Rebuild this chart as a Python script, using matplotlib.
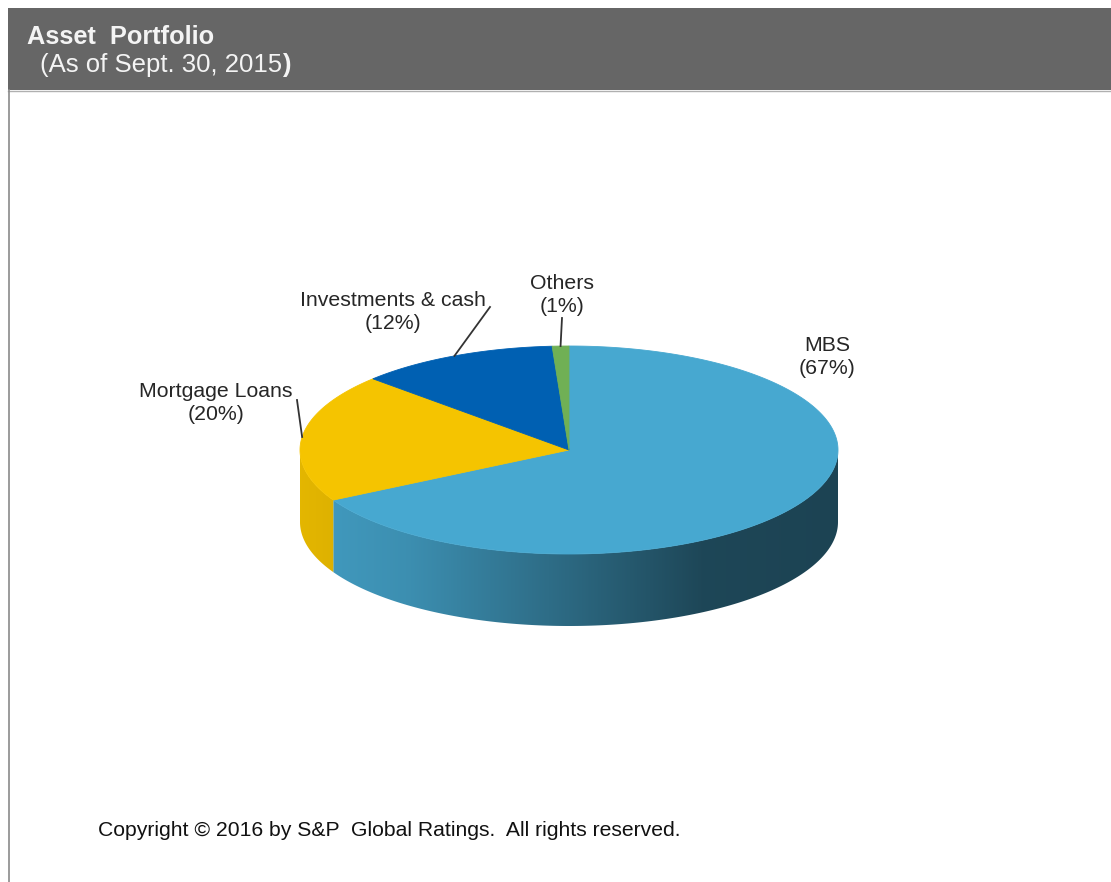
import numpy as np
import matplotlib
matplotlib.use("Agg")
import matplotlib.pyplot as plt
from matplotlib.patches import Polygon, Rectangle
from matplotlib.colors import to_rgb

# ---------------- data ----------------
categories = ["MBS", "Mortgage Loans", "Investments & cash", "Others"]
shares = [67, 20, 12, 1]
top_colors = ["#47A8D0", "#F5C400", "#0060B2", "#70B055"]
title = "Asset  Portfolio"
subtitle = "(As of Sept. 30, 2015"
footer = "Copyright \u00a9 2016 by S&P  Global Ratings.  All rights reserved."

# label layout (label centre, leader outer end or None)
label_pos = [(827, 357), (216, 403), (393, 312), (562, 295)]
leader_end = [None, (297, 400), (490, 307), (562, 318)]

W, H = 1111, 882
plt.rcParams['font.family'] = ['Liberation Sans', 'DejaVu Sans']
fig = plt.figure(figsize=(W / 100, H / 100), dpi=100)
fig.patch.set_facecolor("white")
ax = fig.add_axes([0, 0, 1, 1])
ax.set_xlim(0, W)
ax.set_ylim(H, 0)
ax.axis("off")

# frame / header
ax.add_patch(Rectangle((8, 8), W - 8, 82, facecolor="#666666", edgecolor="none", zorder=1))
ax.plot([8, W], [91, 91], color="#b0b0b0", lw=1, zorder=1)
ax.plot([8.5, 8.5], [90, H], color="#8a8a8a", lw=1.2, zorder=1)

t1 = ax.text(27, 44, title, color="#f4f4f4", fontsize=18.3, fontweight="bold",
             ha="left", va="baseline", zorder=5)
t2 = ax.text(40, 72, subtitle, color="#f4f4f4", fontsize=18.5,
             ha="left", va="baseline", zorder=5)
fig.canvas.draw()
bb = t2.get_window_extent(renderer=fig.canvas.get_renderer())
x_end = ax.transData.inverted().transform((bb.x1, bb.y0))[0]
ax.text(x_end, 72, ")", color="#f4f4f4", fontsize=18.5, fontweight="bold",
        ha="left", va="baseline", zorder=5)

# ---------------- 3D pie geometry ----------------
cx, cy, a, b, depth = 569, 450, 269, 104, 72


def rim(th_deg, dy=0.0):
    t = np.radians(th_deg)
    return cx + a * np.cos(t), cy - b * np.sin(t) + dy


fr = np.array(shares, dtype=float) / np.sum(shares)
cum = np.concatenate([[0], np.cumsum(fr)])
starts = 90 - 360 * cum[:-1]
ends = 90 - 360 * cum[1:]


def shade(u):
    # brightness multiplier along the visible side, u = (x-cx)/a
    return np.interp(u, [-1.0, -0.6, 0.0, 0.5, 1.0], [0.93, 0.85, 0.62, 0.42, 0.40])


# side faces (front half: angles in [-180, 0] + 360k)
for i in range(len(shares)):
    e, s = ends[i], starts[i]
    for k in (-1, 0, 1):
        lo, hi = max(e, -180 + 360 * k), min(s, 360 * k)
        if hi <= lo:
            continue
        th = np.linspace(lo, hi, 200)
        xt, yt = rim(th)
        xb, yb = rim(th[::-1], depth)
        poly = Polygon(np.column_stack([np.concatenate([xt, xb]), np.concatenate([yt, yb])]),
                       closed=True, facecolor="none", edgecolor="none")
        ax.add_patch(poly)
        x0, x1 = xt.min() - 1, xt.max() + 1
        y0, y1 = yt.min() - 2, yb.max() + 2
        xs = np.linspace(x0, x1, 800)
        m = shade((xs - cx) / a)
        base = np.array(to_rgb(top_colors[i]))
        img = np.clip(base[None, :] * m[:, None], 0, 1)[None, :, :].repeat(2, axis=0)
        im = ax.imshow(img, extent=(x0, x1, y1, y0), aspect="auto",
                       interpolation="bilinear", zorder=2)
        im.set_clip_path(poly)

# top faces
for i in range(len(shares)):
    th = np.linspace(starts[i], ends[i], max(int(abs(starts[i] - ends[i]) * 2), 4))
    xt, yt = rim(th)
    pts = np.column_stack([np.concatenate([[cx], xt]), np.concatenate([[cy], yt])])
    ax.add_patch(Polygon(pts, closed=True, facecolor=top_colors[i],
                         edgecolor=top_colors[i], lw=0.6, zorder=3))

# labels and leaders
for i, name in enumerate(categories):
    lx, ly = label_pos[i]
    ax.text(lx, ly, f"{name}\n({shares[i]}%)", ha="center", va="center",
            fontsize=15.3, color="#262626", linespacing=1.32, zorder=6)
    if leader_end[i] is not None:
        mid = (starts[i] + ends[i]) / 2
        px, py = rim(mid)
        ex, ey = leader_end[i]
        ax.plot([px, ex], [py, ey], color="#333333", lw=1.3, zorder=6)

ax.text(98, 830, footer, ha="left", va="center", fontsize=15.2, color="#111111", zorder=6)

fig.savefig("out.png", dpi=100, facecolor="white")
